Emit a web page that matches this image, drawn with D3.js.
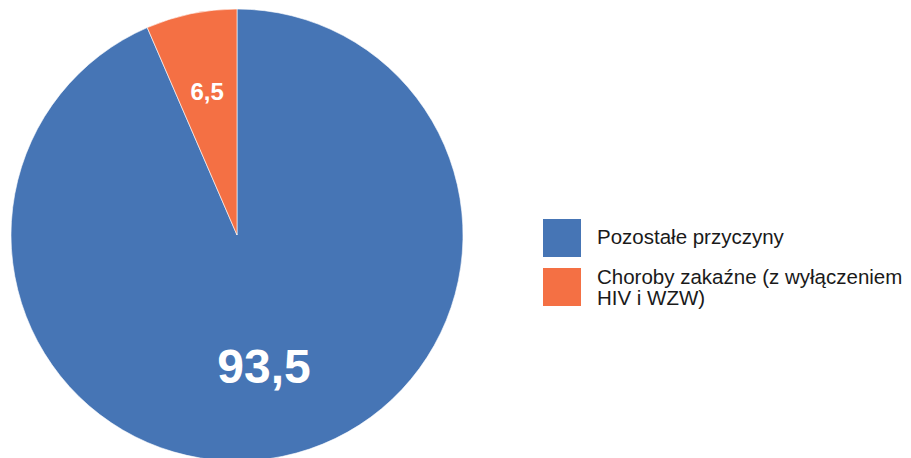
<!DOCTYPE html>
<html>
<head>
<meta charset="utf-8">
<script src="https://cdn.jsdelivr.net/npm/d3@7"></script>
<style>
  html, body { margin: 0; padding: 0; background: #fff; }
  svg { display: block; font-family: "Liberation Sans", Arial, sans-serif; }
</style>
</head>
<body>
<svg id="chart" width="911" height="458"></svg>
<script>
// Udział przyczyn zgonów (%)
const categories = ["Pozostałe przyczyny", "Choroby zakaźne (z wyłączeniem HIV i WZW)"];
const legendLines = [["Pozostałe przyczyny"], ["Choroby zakaźne (z wyłączeniem", "HIV i WZW)"]];
const values = [93.5, 6.5];
const colors = ["#4675B5", "#F47044"];

const svg = d3.select("#chart");
const cx = 237, cy = 235, r = 226;

const pie = d3.pie().sort(null).value(d => d);
const arcs = pie(values);
const arc = d3.arc().innerRadius(0).outerRadius(r);

const g = svg.append("g").attr("transform", `translate(${cx},${cy})`);

g.selectAll("path.slice")
  .data(arcs)
  .join("path")
  .attr("class", "slice")
  .attr("d", arc)
  .attr("fill", (d, i) => colors[i])
  .attr("stroke", "#fff")
  .attr("stroke-width", 0.6);

const fmt = v => String(v).replace(".", ",");

// Etykiety wartości wewnątrz wycinków
const labelArc = [
  d3.arc().innerRadius(r * 0.59).outerRadius(r * 0.59),
  d3.arc().innerRadius(r * 0.65).outerRadius(r * 0.65)
];
const labelSize = [48, 24];

g.selectAll("text.val")
  .data(arcs)
  .join("text")
  .attr("class", "val")
  .attr("transform", (d, i) => `translate(${labelArc[i].centroid(d)})`)
  .attr("text-anchor", "middle")
  .attr("dy", "0.36em")
  .attr("fill", "#fff")
  .attr("font-weight", "bold")
  .attr("font-size", (d, i) => labelSize[i] + "px")
  .text(d => fmt(d.data));

// Legenda
const legend = svg.append("g").attr("transform", "translate(543,219)");
const item = legend.selectAll("g.item")
  .data(categories)
  .join("g")
  .attr("class", "item")
  .attr("transform", (d, i) => `translate(0,${i * 49})`);

item.append("rect")
  .attr("width", 38)
  .attr("height", 38)
  .attr("fill", (d, i) => colors[i]);

item.append("text")
  .attr("x", 54)
  .attr("y", (d, i) => i === 0 ? 25 : 16)
  .attr("font-size", "20.5px")
  .attr("fill", "#1a1a1a")
  .each(function (d, i) {
    const t = d3.select(this);
    legendLines[i].forEach((line, j) => {
      t.append("tspan")
        .attr("x", 54)
        .attr("dy", j === 0 ? 0 : 21)
        .text(line);
    });
  });
</script>
</body>
</html>
